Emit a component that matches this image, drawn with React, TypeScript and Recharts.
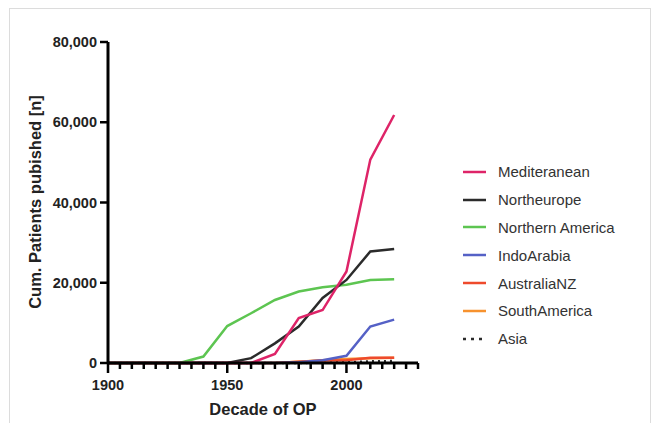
import React from 'react'
import { LineChart, Line, XAxis, YAxis, Legend } from 'recharts'

// decades of operation
const decades = [1900, 1910, 1920, 1930, 1940, 1950, 1960, 1970, 1980, 1990, 2000, 2010, 2020]

const mediterranean = [0, 0, 0, 0, 0, 0, 0, 2250, 11200, 13200, 22800, 50700, 61800]
const northeurope = [0, 0, 0, 0, 0, 0, 1200, 4900, 9100, 16200, 20700, 27800, 28400]
const northernAmerica = [0, 0, 0, 0, 1600, 9200, 12400, 15700, 17800, 18900, 19500, 20700, 20900]
const indoArabia = [0, 0, 0, 0, 0, 0, 0, 0, 200, 700, 1800, 9100, 10800]
const australiaNZ = [0, 0, 0, 0, 0, 0, 0, 0, 300, 600, 700, 1300, 1300]
const southAmerica = [0, 0, 0, 0, 0, 0, 0, 0, 300, 700, 1000, 1200, 1300]
const asia = [0, 0, 0, 0, 0, 0, 0, 0, 0, 100, 200, 400, 500]

const xTicks = [
  1900, 1905, 1910, 1915, 1920, 1925, 1930, 1935, 1940, 1945, 1950, 1955, 1960, 1965,
  1970, 1975, 1980, 1985, 1990, 1995, 2000, 2005, 2010, 2015, 2020, 2025, 2030,
]
const yTicks = [0, 20000, 40000, 60000, 80000]

const series = [
  { key: 'Mediteranean', values: mediterranean, color: '#DE2468', dashed: false },
  { key: 'Northeurope', values: northeurope, color: '#2b2b2b', dashed: false },
  { key: 'Northern America', values: northernAmerica, color: '#5DC551', dashed: false },
  { key: 'IndoArabia', values: indoArabia, color: '#5561C6', dashed: false },
  { key: 'AustraliaNZ', values: australiaNZ, color: '#EE4A2C', dashed: false },
  { key: 'SouthAmerica', values: southAmerica, color: '#F7922E', dashed: false },
  { key: 'Asia', values: asia, color: '#2b2b2b', dashed: true },
]

const data = decades.map((d, i) => {
  const row: any = { decade: d }
  series.forEach((s) => {
    row[s.key] = s.values[i]
  })
  return row
})

const FONT = '"Liberation Sans", Arial, sans-serif'

const XTick = (props: any) => {
  const { x, y, payload } = props
  const major = payload.value % 50 === 0
  return (
    <g>
      <line x1={x} y1={y} x2={x} y2={y + (major ? 10 : 6)} stroke="#000" strokeWidth={2.5} />
      {major && (
        <text x={x} y={y + 27} textAnchor="middle" fontFamily={FONT} fontWeight="bold" fontSize={14.5} fill="#222">
          {payload.value}
        </text>
      )}
    </g>
  )
}

const LegendContent = () => (
  <div style={{ fontFamily: FONT, fontSize: 15, color: '#333' }}>
    {series.map((s) => (
      <div key={s.key} style={{ height: 27.8, display: 'flex', alignItems: 'center' }}>
        <svg width={23} height={6} style={{ marginRight: 12 }}>
          <line
            x1={0}
            y1={3}
            x2={23}
            y2={3}
            stroke={s.color}
            strokeWidth={2.5}
            strokeDasharray={s.dashed ? '3 5' : undefined}
          />
        </svg>
        <span>{s.key}</span>
      </div>
    ))}
  </div>
)

// draw order: Mediteranean on top
const drawOrder = [...series].reverse()

export default function App() {
  return (
    <div style={{ position: 'absolute', left: 0, top: 0, width: 653, height: 423, background: '#fff', overflow: 'hidden' }}>
      <div
        style={{
          position: 'absolute',
          left: 9,
          top: 8,
          width: 642,
          height: 430,
          border: '1px solid #dcdcdc',
          boxSizing: 'border-box',
        }}
      />
      <LineChart
        width={653}
        height={423}
        data={data}
        margin={{ top: 42, right: 235, left: 28, bottom: 10 }}
        style={{ position: 'absolute', left: 0, top: 0 }}
      >
        <XAxis
          dataKey="decade"
          type="number"
          domain={[1900, 2030]}
          ticks={xTicks}
          interval={0}
          height={50}
          tickSize={0}
          tickMargin={0}
          tickLine={false}
          axisLine={{ stroke: '#000', strokeWidth: 3 }}
          tick={<XTick />}
          label={{
            value: 'Decade of OP',
            position: 'insideBottom',
            offset: -2,
            style: { fontFamily: FONT, fontWeight: 'bold', fontSize: 16.5, fill: '#222' },
          }}
        />
        <YAxis
          type="number"
          domain={[0, 80000]}
          ticks={yTicks}
          width={80}
          tickSize={8}
          tickMargin={3}
          tickLine={{ stroke: '#000', strokeWidth: 2.5 }}
          axisLine={{ stroke: '#000', strokeWidth: 3 }}
          tickFormatter={(v: number) => v.toLocaleString('en-US')}
          tick={{ fontFamily: FONT, fontWeight: 'bold', fontSize: 14.5, fill: '#222' }}
          label={{
            content: () => (
              <text
                x={35}
                y={202}
                transform="rotate(-90 35 202)"
                textAnchor="middle"
                dominantBaseline="central"
                fontFamily={FONT}
                fontWeight="bold"
                fontSize={16.5}
                fill="#222"
              >
                Cum. Patients pubished [n]
              </text>
            ),
          }}
        />
        <Legend
          layout="vertical"
          align="center"
          verticalAlign="middle"
          content={<LegendContent />}
          wrapperStyle={{ left: 463, top: 158, width: 190 }}
        />
        {drawOrder.map((s) => (
          <Line
            key={s.key}
            type="linear"
            dataKey={s.key}
            stroke={s.color}
            strokeWidth={2.5}
            strokeDasharray={s.dashed ? '2 4' : undefined}
            dot={false}
            activeDot={false}
            isAnimationActive={false}
          />
        ))}
      </LineChart>
    </div>
  )
}
